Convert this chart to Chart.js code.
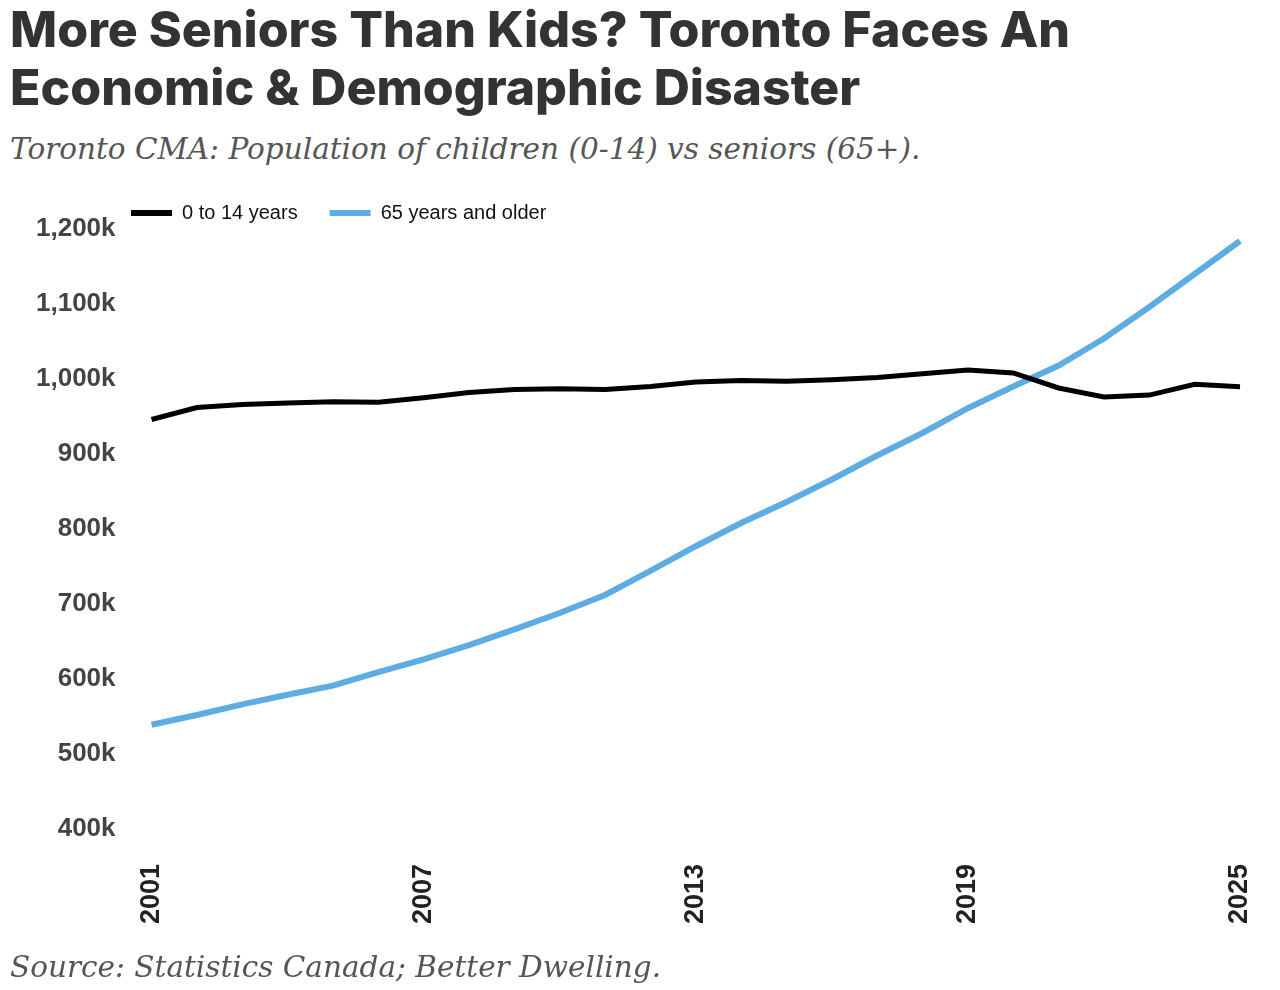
<!DOCTYPE html>
<html>
<head>
<meta charset="utf-8">
<title>Toronto CMA: children vs seniors</title>
<script src="https://cdn.jsdelivr.net/npm/chart.js@4/dist/chart.umd.min.js"></script>
<style>
  html, body { margin: 0; padding: 0; background: #fff; }
  body { width: 1280px; height: 990px; position: relative; overflow: hidden; }
  #title {
    position: absolute; left: 10px; top: 0px;
    font-family: Inter, "Open Sans", sans-serif; font-weight: 800;
    font-size: 50px; line-height: 58px; color: #333;
  }
  #subtitle, #source {
    position: absolute; left: 10px;
    font-family: "DejaVu Serif", serif; font-style: italic;
    font-size: 29.5px; line-height: 34px; color: #555;
  }
  #subtitle { top: 132px; }
  #source { top: 950px; }
  #wrap { position: absolute; left: 0; top: 171px; width: 1280px; height: 788px; }
</style>
</head>
<body>
<div id="wrap"><canvas id="chart"></canvas></div>
<div id="title">More Seniors Than Kids? Toronto Faces An<br>Economic &amp; Demographic Disaster</div>
<div id="subtitle">Toronto CMA: Population of children (0-14) vs seniors (65+).</div>
<div id="source">Source: Statistics Canada; Better Dwelling.</div>

<script>
// values in persons
const years = ['2001', '2002', '2003', '2004', '2005', '2006', '2007', '2008', '2009', '2010',
  '2011', '2012', '2013', '2014', '2015', '2016', '2017', '2018', '2019', '2020',
  '2021', '2022', '2023', '2024', '2025'];

const kids = [946000, 962000, 966000, 968000, 969500, 969000, 975000, 982000, 986000, 987000,
  986000, 990000, 996000, 998000, 997000, 999000, 1002000, 1007000, 1012000, 1008000,
  988000, 976000, 978500, 993000, 989500];

const seniors = [539000, 552000, 566000, 579000, 591000, 609000, 626000, 645000, 666000, 688000,
  712000, 744000, 777000, 808000, 836000, 866000, 898000, 928000, 961000, 990000,
  1018000, 1054000, 1096000, 1140000, 1184000];

const yTicks = [400000, 500000, 600000, 700000, 800000, 900000, 1000000, 1100000, 1200000];
const shownYears = ['2001', '2007', '2013', '2019', '2025'];

// move the legend over so it starts just right of the y labels
const legendShift = {
  id: 'legendShift',
  afterLayout(chart) {
    if (chart.legend) chart.legend.left = 99;
  }
};

new Chart(document.getElementById('chart'), {
  type: 'line',
  data: {
    labels: years,
    datasets: [{
      label: '0 to 14 years',
      data: kids,
      borderColor: '#000000',
      backgroundColor: '#000000',
      borderWidth: 5
    },
    {
      label: '65 years and older',
      data: seniors,
      borderColor: '#5dade2',
      backgroundColor: '#5dade2',
      borderWidth: 6
    }]
  },
  options: {
    responsive: true,
    maintainAspectRatio: false,
    animation: false,
    elements: { point: { radius: 0 }, line: { tension: 0 } },
    layout: { padding: { left: 0, right: 40, top: 0, bottom: 0 } },
    plugins: {
      tooltip: { enabled: false },
      legend: {
        position: 'top',
        align: 'start',
        maxHeight: 58,
        labels: {
          boxWidth: 41,
          boxHeight: 6,
          padding: 32,
          color: '#111',
          font: { family: '"Liberation Sans", Arial, sans-serif', size: 20 },
          generateLabels: (chart) =>
            Chart.defaults.plugins.legend.labels.generateLabels(chart)
              .map(l => Object.assign(l, { lineWidth: 0 }))
        }
      }
    },
    scales: {
      x: {
        grid: { display: false, drawTicks: false },
        border: { display: false },
        // rotated labels reserve too much room on the right
        afterFit: (axis) => { axis.paddingRight = 0; },
        ticks: {
          autoSkip: false,
          minRotation: 90,
          maxRotation: 90,
          padding: 35,
          color: '#222',
          font: { family: '"Liberation Sans", Arial, sans-serif', size: 27, weight: 'bold' },
          callback: function (v) {
            const y = this.getLabelForValue(v);
            return shownYears.includes(y) ? y : '';
          }
        }
      },
      y: {
        min: yTicks[0],
        max: yTicks[yTicks.length - 1],
        grid: { display: false, drawTicks: false },
        border: { display: false },
        afterBuildTicks: (axis) => { axis.ticks = yTicks.map(v => ({ value: v })); },
        ticks: {
          padding: 36,
          color: '#444',
          font: { family: '"Liberation Sans", Arial, sans-serif', size: 26, weight: 'bold' },
          callback: (v) => (v / 1000).toLocaleString('en-US') + 'k'
        }
      }
    }
  },
  plugins: [legendShift]
});
</script>
</body>
</html>
